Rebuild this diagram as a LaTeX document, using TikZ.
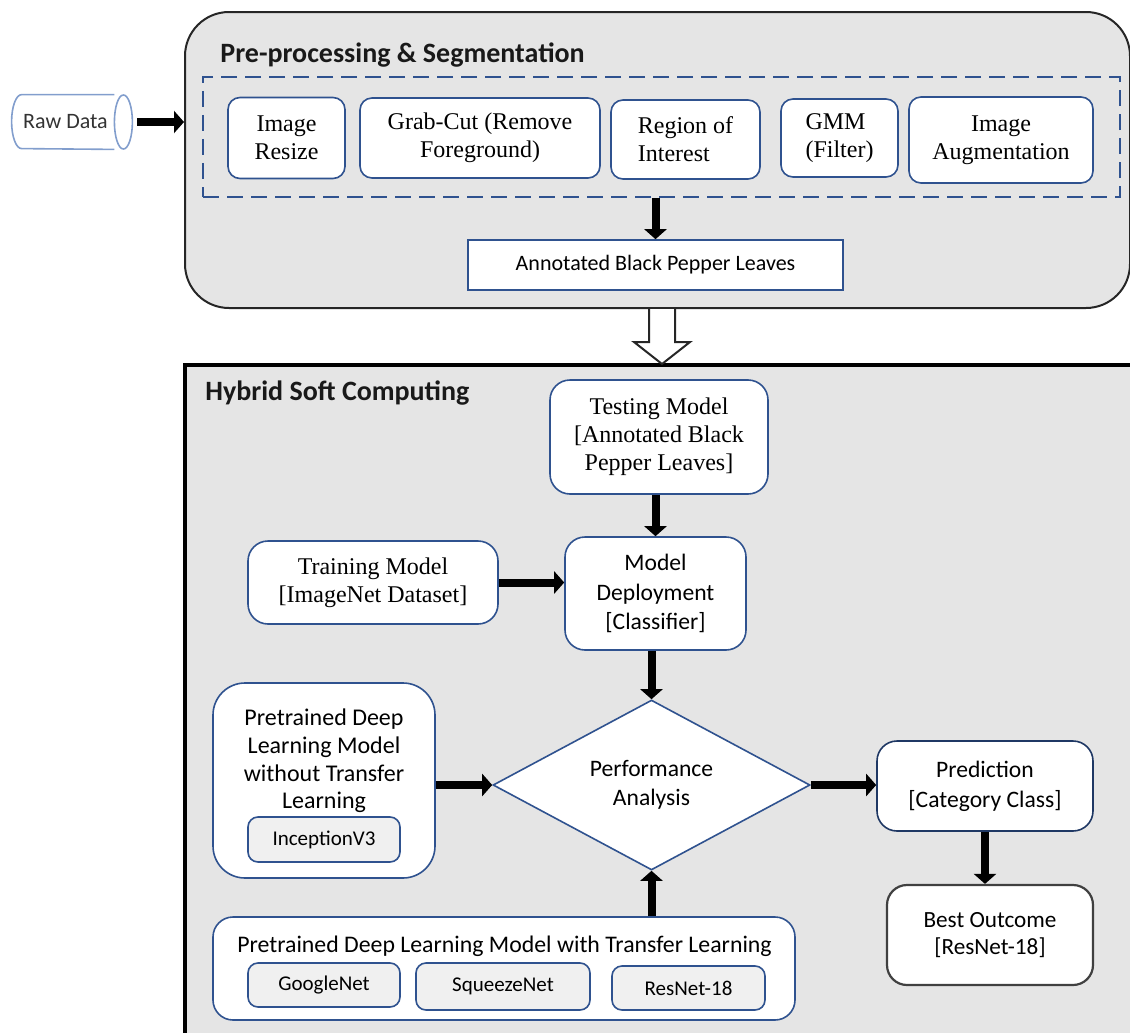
\documentclass[tikz,border=0pt]{standalone}
\usepackage{fontspec}
\setmainfont{Carlito}
\newfontfamily\serifrm{Liberation Serif}
\usetikzlibrary{shapes.geometric,arrows.meta,calc}
\definecolor{navy}{RGB}{47,82,143}
\definecolor{darknavy}{RGB}{31,56,100}
\definecolor{bggray}{RGB}{229,229,229}
\definecolor{innergray}{RGB}{240,240,240}
\definecolor{cylblue}{RGB}{130,158,205}
\begin{document}
\begin{tikzpicture}[x=0.5pt,y=-0.5pt,
  ibox/.style={draw=navy, line width=0.8pt, fill=white, rounded corners=6pt, align=center, inner sep=0pt},
  serifbox/.style={ibox, font=\serifrm\fontsize{12}{14}\selectfont},
  sansbox/.style={ibox, font=\fontsize{11.8}{14.6}\selectfont},
  graybox/.style={ibox, fill=innergray, rounded corners=5pt, font=\fontsize{10.5}{12}\selectfont},
  arr/.style={line width=4pt, -{Triangle[width=11pt,length=5pt]}},
  titletext/.style={anchor=base west, font=\bfseries\fontsize{14}{16}\selectfont, text=black!90, inner sep=0pt},
]
\useasboundingbox (0,0) rectangle (1130,1033);
\clip (0,0) rectangle (1130,1033);

% --- containers
\node[draw=black!85, line width=1pt, fill=bggray, rounded corners=22pt,
      minimum width=472.5pt, minimum height=148pt, inner sep=0pt] (pre) at (657.5,160) {};
\node[draw=black, line width=2pt, fill=bggray,
      minimum width=477.5pt, minimum height=340pt, inner sep=0pt] (hybrid) at (662.5,705) {};
\node[titletext] (pretitle) at (220,62) {Pre-processing \& Segmentation};
\node[titletext] (hytitle) at (205,400) {Hybrid Soft Computing};

% --- raw data cylinder
\node[minimum width=50.5pt, minimum height=27pt, inner sep=0pt] (rawdata) at (72.5,122) {};
\draw[cylblue, line width=0.8pt]
  ([xshift=-4.5pt]rawdata.north east) -- (rawdata.north west)
  arc[start angle=90, end angle=270, x radius=5pt, y radius=13.5pt]
  -- ([xshift=-4.5pt]rawdata.south east);
\draw[cylblue, line width=0.8pt] (rawdata.east) ellipse[x radius=4.5pt, y radius=13.5pt];
\node[inner sep=0pt, font=\fontsize{11}{13}\selectfont, text=black!80] (rawtext) at (65.5,122) {Raw Data};

% --- segmentation stage
\node[draw=navy, line width=1pt, dash pattern=on 8pt off 4pt,
      minimum width=458.5pt, minimum height=60pt, inner sep=0pt] (seg) at (661.5,137) {};
\node[serifbox, minimum width=58.5pt, minimum height=40.5pt] (imgres) at (286.5,138) {Image\\Resize};
\node[serifbox, minimum width=120pt, minimum height=40pt] (grab) at (480,138) {Grab-Cut (Remove\\Foreground)};
\node[serifbox, minimum width=74.5pt, minimum height=39.5pt, align=left] (roi) at (685.5,139.5) {Region of\\Interest};
\node[serifbox, minimum width=58.5pt, minimum height=39pt, align=left] (gmm) at (839.5,138) {GMM\\(Filter)};
\node[serifbox, minimum width=92pt, minimum height=43pt] (aug) at (1001,140) {Image\\Augmentation};
\node[draw=navy, line width=0.8pt, fill=white, minimum width=187.5pt, minimum height=25pt,
      inner sep=0pt, font=\fontsize{11}{13}\selectfont] (annot) at (655.5,265) {Annotated Black Pepper Leaves};

% --- hybrid soft computing
\node[serifbox, rounded corners=10pt, minimum width=109pt, minimum height=57pt] (testing) at (659,437)
  {Testing Model\\{[}Annotated Black\\Pepper Leaves{]}};
\node[sansbox, rounded corners=10pt, minimum width=90.5pt, minimum height=56.5pt] (deploy) at (655.5,593.5)
  {Model\\Deployment\\{[}Classifier{]}};
\node[serifbox, rounded corners=10pt, minimum width=125pt, minimum height=41.5pt] (training) at (373,582.5)
  {Training Model\\{[}ImageNet Dataset{]}};
\node[diamond, draw=navy, line width=0.8pt, fill=white, inner sep=0pt, aspect=1.86,
      minimum width=158.5pt, minimum height=85pt, align=center,
      font=\fontsize{11.8}{14.6}\selectfont] (perf) at (651.5,785) {Performance\\Analysis};

\node[ibox, rounded corners=16pt, minimum width=111pt, minimum height=97.5pt] (wotl) at (324,780.5) {};
\node[align=center, inner sep=0pt, font=\fontsize{12}{13.9}\selectfont] (wotltext) at (324,761)
  {Pretrained Deep\\Learning Model\\without Transfer\\Learning};
\node[graybox, minimum width=76pt, minimum height=22.5pt] (incep) at (324,839.5) {InceptionV3};

\node[sansbox, draw=darknavy, rounded corners=10pt, minimum width=108pt, minimum height=45pt,
      font=\fontsize{11.8}{15}\selectfont] (pred) at (985,786)
  {Prediction\\{[}Category Class{]}};
\node[sansbox, draw=black!75, line width=1.1pt, rounded corners=10pt, minimum width=103pt, minimum height=50pt,
      font=\fontsize{11.6}{13.8}\selectfont] (best) at (990,935)
  {Best Outcome\\{[}ResNet-18{]}};

\node[ibox, rounded corners=10pt, minimum width=291pt, minimum height=51.5pt] (tl) at (504,968.5) {};
\node[anchor=base, inner sep=0pt, font=\fontsize{11.9}{13}\selectfont] (tltitle) at (504.5,952)
  {Pretrained Deep Learning Model with Transfer Learning};
\node[graybox, minimum width=76pt, minimum height=22pt] (google) at (324,985) {GoogleNet};
\node[graybox, minimum width=87pt, minimum height=23.5pt] (squeeze) at (503,986.5) {SqueezeNet};
\node[graybox, minimum width=76.5pt, minimum height=22pt] (resnet) at (688.5,988) {ResNet-18};

% --- connectors
\draw[arr] ([xshift=7pt]rawdata.east) -- (rawdata.east -| pre.west);
\draw[arr] (seg.south -| annot.north) -- (annot.north);
\draw[arr] (deploy.north |- testing.south) -- (deploy.north);
\draw[arr] (training.east) -- (training.east -| deploy.west);
\draw[arr] (perf.north |- deploy.south) -- (perf.north);
\draw[arr] (wotl.east |- perf.west) -- (perf.west);
\draw[arr] (perf.east) -- (perf.east -| pred.west);
\draw[arr] (pred.south) -- (pred.south |- best.north);
\draw[arr] (tl.north -| perf.south) -- (perf.south);

% --- hollow block arrow between the stages
\coordinate (hb) at (pre.south -| 662,0);
\draw[black!85, line width=1pt, fill=white, line join=miter]
  ([xshift=-6.5pt]hb) -- ([xshift=-6.5pt,yshift=-16.5pt]hb) -- ([xshift=-14pt,yshift=-16.5pt]hb)
  -- ([yshift=-27.5pt]hb) -- ([xshift=14pt,yshift=-16.5pt]hb) -- ([xshift=6.5pt,yshift=-16.5pt]hb)
  -- ([xshift=6.5pt]hb);
\end{tikzpicture}
\end{document}
